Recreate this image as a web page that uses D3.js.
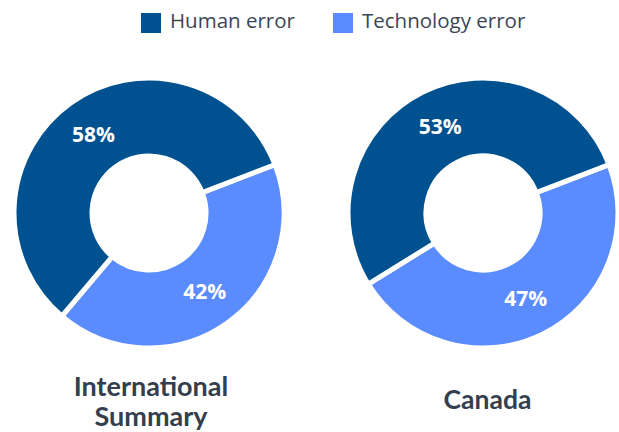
<!DOCTYPE html>
<html>
<head>
<meta charset="utf-8">
<script src="https://cdn.jsdelivr.net/npm/d3@7"></script>
<style>
  body { margin: 0; background: #fff; }
</style>
</head>
<body>
<script>
// two donuts: human vs technology error
const categories = ['Human error', 'Technology error'];
const regions = ['International Summary', 'Canada'];
const intlValues = [58, 42];
const canadaValues = [53, 47];
const colors = ['#00518f', '#5a8bff'];

const svgWidth = 619;
const svgHeight = 432;

const svg = d3.select('body')
  .append('svg')
  .attr('width', svgWidth)
  .attr('height', svgHeight)
  .style('font-family', 'Open Sans, sans-serif');

// legend
const legendX = d3.scaleOrdinal().domain(categories).range([141, 333]);
const legend = svg.selectAll('.legend')
  .data(categories)
  .enter()
  .append('g')
  .attr('class', 'legend')
  .attr('transform', d => `translate(${legendX(d)},13)`);
legend.append('rect')
  .attr('width', 20)
  .attr('height', 20)
  .attr('fill', (d, i) => colors[i]);
legend.append('text')
  .attr('x', 29)
  .attr('y', 15)
  .attr('font-size', 20.5)
  .attr('fill', '#3b4654')
  .text(d => d);

// donuts
const outer = 135;
const inner = 57;
const centerX = d3.scalePoint().domain(regions).range([149, 483]);
const centerY = 213;

const pie = d3.pie().sort(null)
  .startAngle(69 * Math.PI / 180)
  .endAngle(69 * Math.PI / 180 + 2 * Math.PI);
const arc = d3.arc().innerRadius(inner).outerRadius(outer);
const labelArc = d3.arc().innerRadius(inner).outerRadius(outer);

const donutData = [intlValues, canadaValues];
const titleLines = [['International', 'Summary'], ['Canada']];

donutData.forEach((vals, k) => {
  // technology first so it starts at upper-right going clockwise
  const ordered = [{ cat: 1, v: vals[1] }, { cat: 0, v: vals[0] }];
  const g = svg.append('g')
    .attr('transform', `translate(${centerX(regions[k])},${centerY})`);
  const slices = pie.value(d => d.v)(ordered);
  g.selectAll('path')
    .data(slices)
    .enter()
    .append('path')
    .attr('d', arc)
    .attr('fill', d => colors[d.data.cat])
    .attr('stroke', '#fff')
    .attr('stroke-width', 5)
    .attr('stroke-linejoin', 'miter');
  g.selectAll('text')
    .data(slices)
    .enter()
    .append('text')
    .attr('transform', d => {
      const c = labelArc.centroid(d);
      return `translate(${c[0]},${c[1]})`;
    })
    .attr('text-anchor', 'middle')
    .attr('dy', '0.35em')
    .attr('font-size', 21)
    .attr('font-weight', 'bold')
    .attr('fill', '#fff')
    .text(d => d.data.v + '%');

  const lines = titleLines[k];
  const t = svg.append('text')
    .attr('text-anchor', 'middle')
    .attr('font-family', 'Lato, sans-serif')
    .attr('font-weight', 'bold')
    .attr('font-size', lines.length === 2 ? 27 : 26.5)
    .attr('fill', '#333f4f');
  const firstY = lines.length === 2 ? 396 : 409;
  lines.forEach((ln, j) => {
    t.append('tspan')
      .attr('x', centerX(regions[k]) + (k === 0 ? 2 : 4.5))
      .attr('y', firstY + j * 30)
      .text(ln);
  });
});
</script>
</body>
</html>
